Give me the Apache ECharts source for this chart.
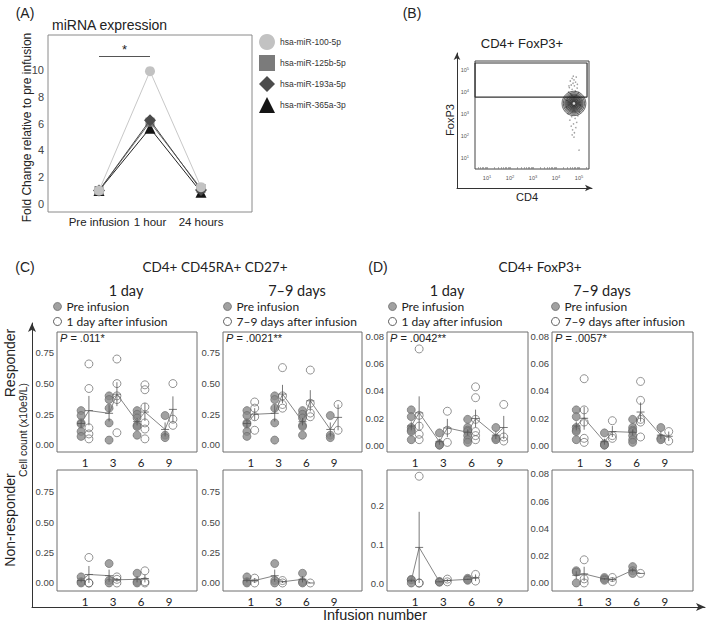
<!DOCTYPE html>
<html><head><meta charset="utf-8">
<script src="https://cdn.jsdelivr.net/npm/echarts@6/dist/echarts.min.js"></script>
<style>html,body{margin:0;padding:0;background:#fff}#c{width:709px;height:624px}</style>
</head><body><div id="c"></div>
<script>
// ---------------- Panel A data ----------------
const timepoints = ['Pre infusion', '1 hour', '24 hours'];
const mirNames = ['hsa-miR-100-5p', 'hsa-miR-125b-5p', 'hsa-miR-193a-5p', 'hsa-miR-365a-3p'];
const mir100 = [1.0, 9.9, 1.25];
const mir125b = [1.0, 6.1, 1.15];
const mir193a = [1.0, 6.25, 1.05];
const mir365a = [1.0, 5.65, 0.88];
const fcTicks = [0, 2, 4, 6, 8, 10];

// ---------------- Panel B data (log10 units) ----------------
const flowTicks = [1, 2, 3, 4, 5];
const flowGate = [[0.48, 5.32], [5.35, 5.32], [5.35, 3.77], [0.48, 3.77], [0.48, 5.32]];
const contourCenter = [4.78, 3.48];
const contourRadii = [0.52, 0.46, 0.40, 0.35, 0.30, 0.25, 0.20, 0.15, 0.10];
const flowEvents = [[4.70,4.62],[4.78,4.55],[4.62,4.50],[4.85,4.45],[4.74,4.40],[4.66,4.32],[4.80,4.28],[4.58,4.20],
  [4.92,4.18],[4.70,4.12],[4.84,4.05],[4.55,4.00],[4.98,3.98],[4.64,3.92],[5.02,3.75],[4.48,3.62],[5.06,3.40],
  [4.46,3.30],[5.02,3.10],[4.52,3.02],[4.95,2.92],[4.68,2.88],[4.83,2.80],[4.60,2.72],[4.90,2.62],[4.76,2.55],
  [4.66,2.45],[4.86,2.38],[4.72,2.28],[4.80,2.15],[4.70,2.05],[4.78,1.95],[5.00,1.36],[4.88,4.68],[4.56,4.28],
  [4.75,4.72],[4.93,4.35],[4.68,3.85],[4.90,3.85]];

// ---------------- Panels C / D data ----------------
const infusions = ['1', '3', '6', '9'];
const cRespPre = [[0.28,0.24,0.18,0.17,0.11,0.07],[0.40,0.37,0.30,0.18,0.04],[0.28,0.25,0.22,0.16,0.15,0.08],[0.24,0.08,0.06]];
const cResp1d  = [[0.66,0.46,0.14,0.09,0.05],[0.70,0.50,0.40,0.37,0.10],[0.49,0.45,0.31,0.18,0.13,0.05],[0.50,0.21,0.16]];
const cResp7d  = [[0.35,0.30,0.23,0.12],[0.63,0.40,0.33,0.30],[0.61,0.34,0.26,0.23],[0.33,0.12]];
const cNonPre  = [[0.05,0.01,0.00],[0.16,0.02,0.00],[0.08,0.01,0.00],[]];
const cNon1d   = [[0.21,0.00,0.00],[0.05,0.03,0.00],[0.10,0.01,0.00],[]];
const cNon7d   = [[0.04,0.00],[0.02,0.00],[0.00],[]];
const dRespPre = [[0.026,0.021,0.013,0.011,0.010,0.004],[0.009,0.001,0.000,0.000],[0.019,0.013,0.011,0.010,0.007,0.004,0.002],[0.013,0.005,0.004]];
const dResp1d  = [[0.071,0.022,0.014,0.008,0.004],[0.025,0.011,0.002],[0.043,0.035,0.019,0.010,0.007,0.004],[0.030,0.006,0.003]];
const dResp7d  = [[0.049,0.026,0.017,0.005,0.002],[0.018,0.007,0.005],[0.047,0.033,0.019,0.017,0.006],[0.010,0.003]];
const dNonPre  = [[0.009,0.008,0.000],[0.004,0.003,0.002],[0.012,0.009,0.007],[]];
const dNon1d   = [[0.274,0.000,0.000],[0.010,0.003],[0.022,0.005],[]];
const dNon7d   = [[0.017,0.003,0.000],[0.004,0.001],[0.007],[]];
const pValues  = ['.011*', '.0021**', '.0042**', '.0057*'];
const cTicks = [0, 0.25, 0.5, 0.75];
const dTicks = [0, 0.02, 0.04, 0.06, 0.08];
const dNon1dTicks = [0, 0.1, 0.2];

// ---------------- build ----------------
const FA = '"Liberation Sans", Arial, sans-serif';
const FL = 'Lato, "Liberation Sans", sans-serif';
const grids = [], xAxes = [], yAxes = [], series = [], legends = [], graphics = [];
const noAx = {axisLine:{show:false}, axisTick:{show:false}, splitLine:{show:false}};
function addGrid(g){ grids.push(Object.assign({containLabel:false}, g)); return grids.length - 1; }
function txt(x, y, text, size, o){
  o = o || {};
  const st = {text:text, fontSize:size, fontFamily:o.font || FA, fill:o.color || '#222',
    align:o.align || 'center', textAlign:o.align || 'center', verticalAlign:'middle', textVerticalAlign:'middle'};
  if (o.rich) st.rich = o.rich;
  graphics.push({type:'text', x:x, y:y, rotation:o.rot || 0, z:100, style:st});
}

// Panel A
const gA = addGrid({left:48, top:35, width:204, height:177, show:true, borderColor:'#8a8a8a', borderWidth:1});
xAxes.push(Object.assign({gridIndex:gA, type:'value', min:0, max:4,
  axisLabel:{customValues:[1,2,3], formatter:v => timepoints[v-1], fontSize:11.5, color:'#222', fontFamily:FA, margin:4}}, noAx));
yAxes.push(Object.assign({gridIndex:gA, type:'value', min:-0.6, max:12.6,
  axisLabel:{customValues:fcTicks, fontSize:11, color:'#444', fontFamily:FA, margin:4}}, noAx));
const mirDefs = [
  {name:mirNames[3], vals:mir365a, symbol:'triangle', size:11, color:'#151515', line:'#222'},
  {name:mirNames[1], vals:mir125b, symbol:'rect', size:9, color:'#7b7b7b', line:'#6f6f6f'},
  {name:mirNames[2], vals:mir193a, symbol:'diamond', size:12, color:'#4b4b4b', line:'#4b4b4b'},
  {name:mirNames[0], vals:mir100, symbol:'circle', size:10, color:'#c2c2c2', line:'#c8c8c8'}
];
mirDefs.forEach((d, k) => {
  const s = {type:'line', name:d.name, xAxisIndex:gA, yAxisIndex:gA, data:d.vals.map((v,i) => [i+1, v]),
    symbol:d.symbol, symbolSize:d.size, itemStyle:{color:d.color}, lineStyle:{color:d.line, width:1}, z:2+k, animation:false};
  if (k === 3) {
    s.markLine = {silent:true, symbol:'none', lineStyle:{color:'#555', width:1, type:'solid'},
      label:{formatter:'*', position:'middle', fontSize:13, color:'#222', distance:0},
      data:[[{coord:[1, 11.0]}, {coord:[2, 11.0]}]]};
  }
  series.push(s);
});
legends.push({left:259, top:34, orient:'vertical', itemWidth:16, itemHeight:16, itemGap:5, padding:0, selectedMode:false,
  textStyle:{fontSize:8.5, color:'#333', fontFamily:FA},
  data:[{name:mirNames[0], icon:'circle', itemStyle:{color:'#c2c2c2'}},
        {name:mirNames[1], icon:'rect', itemStyle:{color:'#7b7b7b'}},
        {name:mirNames[2], icon:'diamond', itemStyle:{color:'#4b4b4b'}},
        {name:mirNames[3], icon:'triangle', itemStyle:{color:'#151515'}}]});

// Panel B
const arrowAx = {type:'value', min:0, max:1, axisLine:{show:true, symbol:['none','arrow'], symbolSize:[5,7], lineStyle:{color:'#333', width:1}},
  axisTick:{show:false}, axisLabel:{show:false}, splitLine:{show:false}};
const gBo = addGrid({left:457, top:53, width:135, height:135});
xAxes.push(Object.assign({gridIndex:gBo}, arrowAx));
yAxes.push(Object.assign({gridIndex:gBo}, arrowAx));
const gB = addGrid({left:475, top:61, width:114, height:108, show:true, borderColor:'#444', borderWidth:1});
const minorTicks = [];
for (let e = 0; e <= 5; e++) for (let k = 1; k <= 9; k++) { const t = e + Math.log10(k); if (t > 0.48 && t < 5.43) minorTicks.push(t); }
const supRich = {s:{fontSize:4, verticalAlign:'top', color:'#555', padding:[0,0,3,0]}};
xAxes.push({gridIndex:gB, type:'value', min:0.478, max:5.435, axisLine:{show:false}, splitLine:{show:false},
  axisTick:{show:true, inside:true, length:2, customValues:minorTicks, lineStyle:{color:'#777', width:0.6}},
  axisLabel:{customValues:flowTicks, formatter:v => '10{s|' + v + '}', fontSize:5.5, color:'#555', margin:5, rich:supRich}});
yAxes.push({gridIndex:gB, type:'value', min:0.5, max:5.41, axisLine:{show:false}, splitLine:{show:false}, axisTick:{show:false},
  axisLabel:{customValues:flowTicks, formatter:v => '10{s|' + v + '}', fontSize:5.5, color:'#555', margin:6, rich:supRich}});
series.push({type:'scatter', xAxisIndex:gB, yAxisIndex:gB, data:flowEvents, symbolSize:1.6, itemStyle:{color:'#8a8a8a'}, animation:false, silent:true});
series.push({type:'scatter', xAxisIndex:gB, yAxisIndex:gB, animation:false, silent:true, z:3,
  data:contourRadii.map(r => ({value:contourCenter, symbolSize:[r*2*23, r*2*23.5]})),
  itemStyle:{color:'rgba(30,30,30,0.17)', borderColor:'#1e1e1e', borderWidth:0.8}});
series.push({type:'scatter', xAxisIndex:gB, yAxisIndex:gB, animation:false, silent:true, z:4,
  data:[contourCenter], symbolSize:2.5, itemStyle:{color:'#fff'}});
series.push({type:'line', xAxisIndex:gB, yAxisIndex:gB, data:flowGate, symbol:'none', clip:false, animation:false,
  lineStyle:{color:'#333', width:1.2}});

// Panels C/D
const colLeft = [57, 223, 387, 552], colW = [140, 139, 141, 141];
const rowTop = [332, 470], rowH = [120, 121];
const panels = [
  {col:0,row:0, pre:cRespPre, post:cResp1d, postName:'1 day after infusion', range:[-0.057,0.92], ticks:cTicks, dec:2},
  {col:1,row:0, pre:cRespPre, post:cResp7d, postName:'7–9 days after infusion', range:[-0.057,0.92], ticks:cTicks, dec:2},
  {col:2,row:0, pre:dRespPre, post:dResp1d, postName:'1 day after infusion', range:[-0.0051,0.0835], ticks:dTicks, dec:2},
  {col:3,row:0, pre:dRespPre, post:dResp7d, postName:'7–9 days after infusion', range:[-0.0051,0.0835], ticks:dTicks, dec:2},
  {col:0,row:1, pre:cNonPre, post:cNon1d, postName:'1 day after infusion', range:[-0.066,0.93], ticks:cTicks, dec:2},
  {col:1,row:1, pre:cNonPre, post:cNon7d, postName:'7–9 days after infusion', range:[-0.066,0.93], ticks:cTicks, dec:2},
  {col:2,row:1, pre:dNonPre, post:dNon1d, postName:'1 day after infusion', range:[-0.0205,0.29], ticks:dNon1dTicks, dec:1},
  {col:3,row:1, pre:dNonPre, post:dNon7d, postName:'7–9 days after infusion', range:[-0.0059,0.0829], ticks:dTicks, dec:2}
];
function stats(a){
  const n = a.length, m = a.reduce((s,v) => s+v, 0) / n;
  if (n < 2) return [m, 0];
  const sd = Math.sqrt(a.reduce((s,v) => s + (v-m)*(v-m), 0) / (n-1));
  return [m, sd / Math.sqrt(n)];
}
function errRender(params, api){
  const x = api.value(0), m = api.value(1), lo = api.value(2), hi = api.value(3);
  const pm = api.coord([x, m]), pl = api.coord([x, lo]), ph = api.coord([x, hi]);
  const st = {stroke:'#555', lineWidth:0.8, fill:null};
  return {type:'group', children:[
    {type:'line', shape:{x1:pl[0], y1:pl[1], x2:ph[0], y2:ph[1]}, style:st},
    {type:'line', shape:{x1:pm[0]-4, y1:pm[1], x2:pm[0]+4, y2:pm[1]}, style:st}
  ]};
}
const OFF = 0.14;
panels.forEach((p, idx) => {
  const gi = addGrid({left:colLeft[p.col], top:rowTop[p.row], width:colW[p.col], height:rowH[p.row], show:true, borderColor:'#6e6e6e', borderWidth:1});
  xAxes.push(Object.assign({gridIndex:gi, type:'value', min:0, max:5,
    axisLabel:{customValues:[1,2,3,4], formatter:v => infusions[v-1], fontSize:11.5, color:'#222', fontFamily:FL, margin:4}}, noAx));
  yAxes.push(Object.assign({gridIndex:gi, type:'value', min:p.range[0], max:p.range[1],
    axisLabel:{customValues:p.ticks, formatter:v => v.toFixed(p.dec), fontSize:9.5, color:'#444', fontFamily:FA, margin:3}}, noAx));
  const preD = [], postD = [], meanD = [], errD = [];
  for (let i = 0; i < infusions.length; i++) {
    const a = p.pre[i], b = p.post[i];
    a.forEach(v => preD.push([i+1-OFF, v]));
    b.forEach(v => postD.push([i+1+OFF, v]));
    if (a.length) { const [m, se] = stats(a); meanD.push([i+1-OFF, m]); errD.push([i+1-OFF, m, m-se, m+se]); }
    if (b.length) { const [m, se] = stats(b); meanD.push([i+1+OFF, m]); errD.push([i+1+OFF, m, m-se, m+se]); }
  }
  series.push({type:'scatter', name:'Pre infusion', xAxisIndex:gi, yAxisIndex:gi, data:preD, symbolSize:8, z:2, animation:false,
    itemStyle:{color:'#8a8a8a', borderColor:'#686868', borderWidth:0.8}});
  series.push({type:'scatter', name:p.postName, xAxisIndex:gi, yAxisIndex:gi, data:postD, symbolSize:8, z:3, animation:false,
    itemStyle:{color:'rgba(255,255,255,0)', borderColor:'#555', borderWidth:0.8}});
  series.push({type:'line', xAxisIndex:gi, yAxisIndex:gi, data:meanD, symbol:'none', z:4, animation:false,
    lineStyle:{color:'#777', width:0.9}});
  series.push({type:'custom', xAxisIndex:gi, yAxisIndex:gi, data:errD, renderItem:errRender, z:5, animation:false,
    encode:{x:0, y:[1,2,3]}});
});
[[53,'1 day after infusion'],[223,'7–9 days after infusion'],[388,'1 day after infusion'],[551,'7–9 days after infusion']].forEach(l => {
  legends.push({left:l[0], top:299.5, orient:'vertical', itemWidth:8, itemHeight:8, itemGap:1, padding:0, selectedMode:false,
    textStyle:{fontSize:12, color:'#222', fontFamily:FL, lineHeight:14},
    data:[{name:'Pre infusion', icon:'circle', itemStyle:{color:'#8a8a8a', borderColor:'#555', borderWidth:0.8}},
          {name:l[1], icon:'circle', itemStyle:{color:'#fff', borderColor:'#333', borderWidth:1}}]});
});

// big L-shaped axis
const gL = addGrid({left:32, top:323, width:673, height:284});
xAxes.push(Object.assign({gridIndex:gL}, arrowAx, {axisLine:{show:true, symbol:['none','arrow'], symbolSize:[6,9], lineStyle:{color:'#333', width:1}}}));
yAxes.push(Object.assign({gridIndex:gL}, arrowAx, {axisLine:{show:true, symbol:['none','arrow'], symbolSize:[6,9], lineStyle:{color:'#333', width:1}}}));

// texts
txt(25, 13, '(A)', 14);
txt(52, 25, 'miRNA expression', 14, {align:'left'});
txt(27, 127.5, 'Fold Change relative to pre infusion', 12, {rot:Math.PI/2});
txt(412, 13, '(B)', 14);
txt(522, 43, 'CD4+ FoxP3+', 13);
txt(450, 120, 'FoxP3', 11, {rot:Math.PI/2});
txt(527, 197, 'CD4', 11);
txt(25, 267, '(C)', 14);
txt(215, 267, 'CD4+ CD45RA+ CD27+', 13.5, {font:FL});
txt(126, 290.5, '1 day', 14.5, {font:FL});
txt(297, 290.5, '7–9 days', 14.5, {font:FL});
txt(378, 267, '(D)', 14);
txt(540, 267, 'CD4+ FoxP3+', 13.5, {font:FL});
txt(447, 290.5, '1 day', 14.5, {font:FL});
txt(602, 290.5, '7–9 days', 14.5, {font:FL});
const pRich = {i:{fontStyle:'italic', fontSize:11, fontFamily:FA, fill:'#222'}, n:{fontSize:11, fontFamily:FA, fill:'#222'}};
[0,1,2,3].forEach(c => txt(colLeft[c] + 3, 338, '{i|P}{n| = ' + pValues[c] + '}', 11, {align:'left', rich:pRich}));
txt(10, 363, 'Responder', 14, {rot:Math.PI/2});
txt(10, 520, 'Non-responder', 14, {rot:Math.PI/2});
txt(23, 430, 'Cell count (x10e9/L)', 10.5, {rot:Math.PI/2});
txt(375, 615, 'Infusion number', 14.5);

const chart = echarts.init(document.getElementById('c'), null, {renderer:'svg', width:709, height:624});
chart.setOption({animation:false, backgroundColor:'#fff', grid:grids, xAxis:xAxes, yAxis:yAxes, series:series, legend:legends, graphic:graphics});
</script></body></html>
